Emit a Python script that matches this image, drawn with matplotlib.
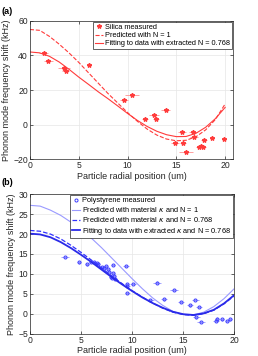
import numpy as np
import matplotlib
matplotlib.use('Agg')
import matplotlib.pyplot as plt

plt.rcParams['font.family'] = ['Liberation Sans', 'DejaVu Sans']
plt.rcParams['mathtext.fontset'] = 'dejavusans'

# ---- panel (a): silica ----
silica_x = [1.4, 1.9, 3.5, 3.65, 6.1, 9.6, 10.45, 11.8, 12.7, 12.9, 13.9, 14.9, 15.6, 15.7,
            16.0, 16.7, 16.8, 17.85, 17.3, 17.5, 17.7, 18.7, 19.9]
silica_y = [41.5, 36.7, 32.5, 31.2, 34.6, 14.4, 17.3, 3.5, 5.8, 3.1, 8.3, -10.4, -4.4, -10.4,
            -16.0, -4.4, -6.9, -9.0, -12.7, -12.3, -12.9, -7.5, -8.5]
silica_xerr = [0.5, 0.5, 0.6, 0.4, 0.2, 0.4, 0.7, 0.3, 0.5, 0.3, 0.5, 0.4, 0.4, 0.3,
               0.7, 0.4, 0.4, 0.3, 0.3, 0.3, 0.3, 0.2, 0.2]

curve_r = list(range(0, 21))
silica_pred_n1 = [55, 54.5, 51, 46.5, 41.5, 36, 30, 24, 18, 12.5, 7, 2, -2.5, -6, -8.3, -9.3,
                  -9, -7, -3, 3, 12]
silica_fit = [42, 41.5, 39.5, 36.2, 32, 27.5, 23.3, 19, 15, 10.8, 6.5, 2.5, -1, -3.8, -5.8,
              -6.9, -6.8, -5, -1.5, 3.5, 10]

# ---- panel (b): polystyrene ----
ps_x = [3.4, 4.8, 5.55, 6.0, 6.3, 6.55, 6.7, 7.05, 7.25, 7.45, 7.6, 7.7, 8.1, 8.15, 7.95,
        8.05, 8.3, 8.25, 9.4, 9.5, 9.55, 9.55, 10.1, 11.8, 12.4, 13.15, 14.1, 14.75, 15.65,
        16.2, 16.55, 16.3, 16.75, 18.2, 18.3, 18.8, 19.25, 19.6]
ps_y = [14.2, 12.9, 12.4, 13.1, 13.0, 12.8, 12.4, 11.8, 11.5, 12.0, 11.2, 10.5, 12.2, 10.3,
        9.2, 8.9, 8.8, 9.6, 12.0, 7.4, 7.0, 5.2, 7.5, 3.4, 7.8, 3.6, 6.0, 3.0, 2.1,
        3.4, 1.7, -0.9, -2.0, -1.8, -1.2, -1.4, -1.8, -1.4]
ps_xerr = [0.4, 0.2, 0.2, 0.2, 0.2, 0.2, 0.2, 0.2, 0.2, 0.2, 0.2, 0.2, 0.2, 0.2, 0.2,
           0.2, 0.2, 0.2, 0.3, 0.2, 0.2, 0.2, 0.3, 0.3, 0.4, 0.3, 0.4, 0.3, 0.3,
           0.3, 0.3, 0.3, 0.4, 0.3, 0.2, 0.2, 0.2, 0.2]

ps_pred_n1 = [27.2, 27, 26, 24.7, 23, 21.3, 19, 16.6, 14, 11.4, 8.8, 6.3, 4, 2.1, 0.6, -0.2,
              -0.3, 0.4, 1.8, 3.8, 6.3]
ps_pred_n0768 = [20.9, 20.7, 20, 18.8, 17.2, 15.4, 13.5, 11.5, 9.5, 7.6, 5.8, 4.2, 2.7, 1.4,
                 0.4, -0.2, -0.4, 0, 0.9, 2.5, 4.5]
ps_fit = [20.1, 19.9, 19.2, 18, 16.5, 14.8, 13, 11.1, 9.2, 7.4, 5.7, 4.1, 2.7, 1.5, 0.5,
          -0.1, -0.3, 0.1, 1.0, 2.6, 4.7]

FS = 6.2
fig = plt.figure(figsize=(2.58, 3.56), dpi=100)
ax1 = fig.add_axes([0.116, 0.5525, 0.787, 0.389])
ax2 = fig.add_axes([0.116, 0.0626, 0.792, 0.392])

red = '#ff3b3b'
ax1.errorbar(silica_x, silica_y, xerr=silica_xerr, fmt='none', ecolor='#ff9090', elinewidth=0.6,
             capsize=0)
ax1.plot(silica_x, silica_y, '*', color=red, ms=3.2, label='Silica measured')
ax1.plot(curve_r, silica_pred_n1, '--', color=red, lw=0.8, label='Predicted with N = 1')
ax1.plot(curve_r, silica_fit, '-', color=red, lw=0.8,
         label='Fitting to data with extracted N = 0.768')
ax1.set_xlim(0, 20.8)
ax1.set_ylim(-20, 60)
ax1.set_xticks([0, 5, 10, 15, 20])
ax1.set_yticks([-20, 0, 20, 40, 60])

blue = '#3c3cff'
ax2.errorbar(ps_x, ps_y, xerr=ps_xerr, yerr=0.3, fmt='none', ecolor='#8080ff', elinewidth=0.5,
             capsize=0)
ax2.plot(ps_x, ps_y, 'o', mfc='none', mec=blue, ms=2.2, mew=0.7, label='Polystyrene measured')
ax2.plot(curve_r, ps_pred_n1, '-', color='#9a9aff', lw=0.8,
         label=r'Predicted with material $\kappa$ and N = 1')
ax2.plot(curve_r, ps_pred_n0768, '--', color='#3030ff', lw=0.9,
         label=r'Predicted with material $\kappa$ and N = 0.768')
ax2.plot(curve_r, ps_fit, '-', color='#2a2ae8', lw=1.3,
         label=r'Fitting to data with extracted $\kappa$ and N = 0.768')
ax2.set_xlim(0, 20)
ax2.set_ylim(-5, 30)
ax2.set_xticks([0, 5, 10, 15, 20])
ax2.set_yticks([-5, 0, 5, 10, 15, 20, 25, 30])

for ax in (ax1, ax2):
    ax.grid(True, color='#e6e6e6', lw=0.5)
    ax.set_axisbelow(True)
    ax.tick_params(direction='in', labelsize=FS, length=2, width=0.5, pad=1.5,
                   top=True, right=True, colors='#262626', labelcolor='#262626')
    for s in ax.spines.values():
        s.set_linewidth(0.5)
        s.set_color('#262626')
    ax.set_xlabel('Particle radial position (um)', fontsize=6.5, labelpad=1, color='#262626')
    ax.set_ylabel('Phonon mode frequency shift (kHz)', fontsize=6.5, labelpad=1.5,
                  color='#262626')
    leg = ax.legend(loc='upper right', fontsize=5.3, handlelength=1.1, handletextpad=0.3,
                    borderpad=0.25, labelspacing=0.15, borderaxespad=0.15, fancybox=False,
                    framealpha=1)
    leg.get_frame().set_linewidth(0.5)
    leg.get_frame().set_edgecolor('#262626')

fig.text(0.005, 0.968, '(a)', fontsize=6.5, fontweight='bold', va='center')
fig.text(0.005, 0.488, '(b)', fontsize=6.5, fontweight='bold', va='center')

fig.savefig('out.png', dpi=100)
